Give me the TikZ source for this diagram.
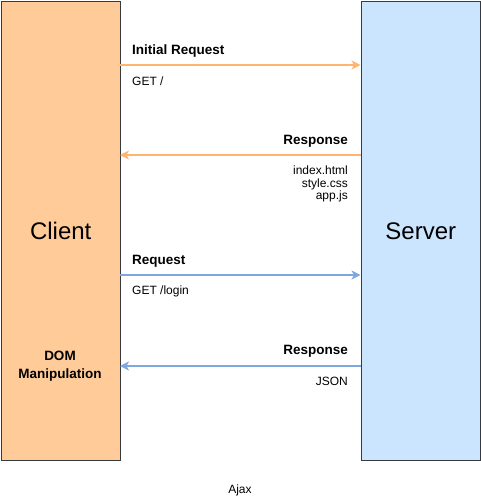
\documentclass[tikz,border=0pt]{standalone}
\usepackage{fontspec}
\setmainfont{Liberation Sans}
\usetikzlibrary{arrows.meta}
\definecolor{clientfill}{HTML}{FFCC99}
\definecolor{serverfill}{HTML}{CCE5FF}
\definecolor{boxline}{HTML}{36393D}
\definecolor{orangeline}{HTML}{FFB570}
\definecolor{blueline}{HTML}{7EA6E0}
\tikzset{
  party/.style={draw=boxline, line width=1pt, minimum width=119.5pt, minimum height=459.5pt, inner sep=0pt, font=\fontsize{24}{28}\selectfont},
  msg/.style={line width=1.2pt, -{Stealth[length=9pt,width=9pt,inset=2.5pt]}},
  lbl/.style={inner sep=0pt, font=\fontsize{13.5}{16}\selectfont\bfseries},
  sub/.style={inner sep=0pt, font=\fontsize{12}{12.5}\selectfont, align=right}
}
\begin{document}
\begin{tikzpicture}[x=1pt,y=-1pt]
\useasboundingbox (0,0) rectangle (481,501);
\node[party, fill=clientfill, anchor=north west] (client) at (0.5,0.5) {Client};
\node[party, fill=serverfill, anchor=north west] (server) at (360.5,0.5) {Server};
\coordinate (c1) at (120,65); \coordinate (s1) at (360.5,65);
\coordinate (c2) at (120,155); \coordinate (s2) at (360.5,155);
\coordinate (c3) at (120,275); \coordinate (s3) at (360.5,275);
\coordinate (c4) at (120,366); \coordinate (s4) at (360.5,366);
\draw[msg, orangeline] (c1) -- (s1);
\draw[msg, orangeline] (s2) -- (c2);
\draw[msg, blueline] (c3) -- (s3);
\draw[msg, blueline] (s4) -- (c4);
\node[lbl, anchor=west] (l1) at (132,51) {Initial Request};
\node[sub, anchor=west] (g1) at (132,81) {GET /};
\node[lbl, anchor=east] (l2) at (348,141) {Response};
\node[sub, anchor=north east] (g2) at (348,166) {index.html\\style.css\\app.js};
\node[lbl, anchor=west] (l3) at (132,261) {Request};
\node[sub, anchor=west] (g3) at (132,291) {GET /login};
\node[lbl, anchor=east] (l4) at (348,351) {Response};
\node[sub, anchor=east] (g4) at (348,381) {JSON};
\node[lbl, align=center, font=\fontsize{13.5}{18}\selectfont\bfseries] (dom) at (60,366) {DOM\\Manipulation};
\node[sub] (ajax) at (240,490) {Ajax};
\end{tikzpicture}
\end{document}
